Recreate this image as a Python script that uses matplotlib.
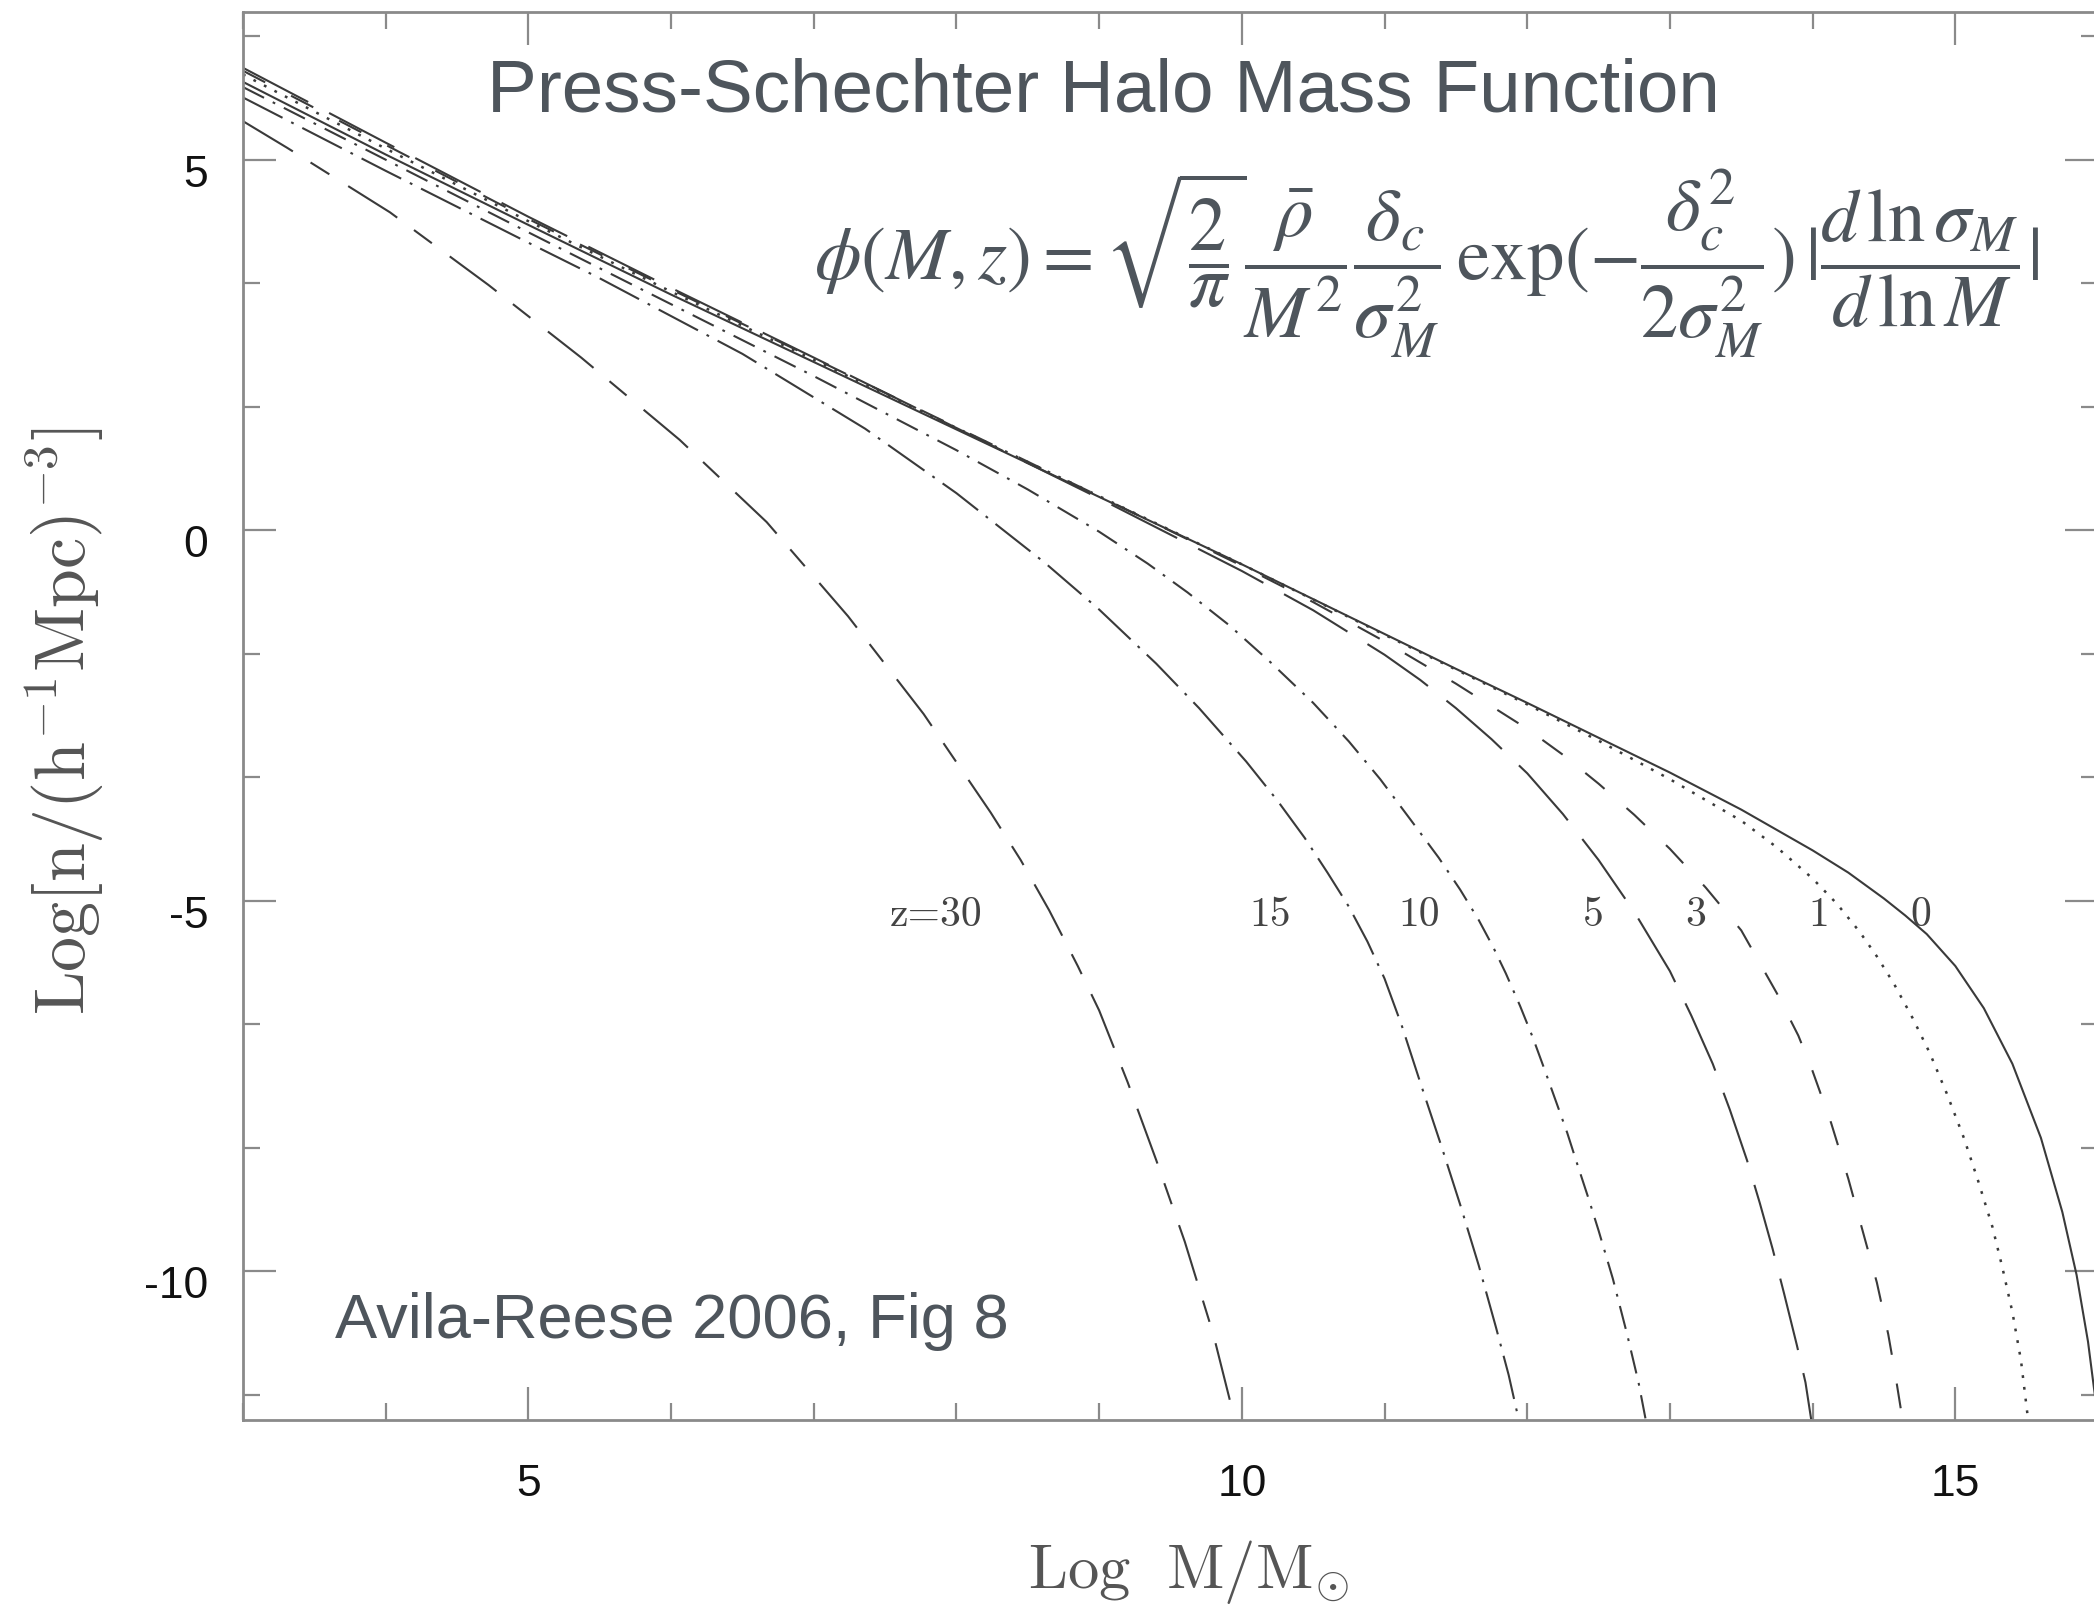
import matplotlib
matplotlib.use("Agg")
import matplotlib.pyplot as plt
import matplotlib.transforms as mtransforms
from matplotlib.ticker import MultipleLocator

# ---------------- data ----------------
# Log M/Msun  vs  Log[n/(h^-1 Mpc)^-3]
z0_x = [3.0, 4.0, 5.0, 6.0, 7.0, 8.0, 9.0, 10.0, 10.5, 11.0, 11.5, 12.0, 12.5, 13.0,
        13.5, 14.0, 14.25, 14.5, 14.65, 14.8, 15.0, 15.2, 15.4, 15.6, 15.75, 15.85, 15.93, 16.0]
z0_y = [6.05, 5.07, 4.12, 3.18, 2.27, 1.36, 0.45, -0.46, -0.93, -1.40, -1.87, -2.33, -2.80, -3.27,
        -3.77, -4.32, -4.62, -4.97, -5.20, -5.45, -5.88, -6.45, -7.20, -8.20, -9.20, -10.05, -10.95, -12.0]

z1_x = [3.0, 4.0, 5.0, 6.0, 7.0, 8.0, 9.0, 10.0, 11.0, 12.0, 12.5, 13.0, 13.5, 13.75, 14.0,
        14.17, 14.33, 14.45, 14.57, 14.7, 14.82, 14.94, 15.06, 15.16, 15.26, 15.33, 15.4, 15.46, 15.51]
z1_y = [6.15, 5.15, 4.17, 3.22, 2.30, 1.38, 0.46, -0.46, -1.41, -2.35, -2.84, -3.36, -3.92, -4.28, -4.70,
        -5.04, -5.42, -5.75, -6.12, -6.58, -7.05, -7.60, -8.20, -8.78, -9.40, -9.95, -10.55, -11.2, -12.0]

z3_x = [3.0, 4.0, 5.0, 6.0, 7.0, 8.0, 9.0, 10.0, 10.5, 11.0, 11.5, 12.0, 12.25, 12.5, 12.75, 13.0,
        13.25, 13.5, 13.75, 13.9, 14.0, 14.13, 14.25, 14.35, 14.45, 14.53, 14.58, 14.63]
z3_y = [6.20, 5.20, 4.20, 3.25, 2.32, 1.39, 0.46, -0.48, -0.97, -1.50, -2.07, -2.68, -3.03, -3.42, -3.84, -4.30,
        -4.82, -5.40, -6.25, -6.82, -7.30, -8.00, -8.75, -9.45, -10.15, -10.85, -11.40, -12.0]

z5_x = [3.0, 4.0, 5.0, 6.0, 7.0, 8.0, 9.0, 10.0, 10.5, 11.0, 11.25, 11.5, 11.75, 12.0, 12.25, 12.5,
        12.75, 13.0, 13.15, 13.3, 13.42, 13.54, 13.63, 13.72, 13.8, 13.89, 13.95, 13.99]
z5_y = [6.24, 5.23, 4.23, 3.27, 2.33, 1.38, 0.43, -0.55, -1.08, -1.68, -2.02, -2.40, -2.82, -3.28, -3.83, -4.45,
        -5.15, -5.95, -6.55, -7.20, -7.82, -8.50, -9.08, -9.70, -10.30, -11.00, -11.50, -12.0]

z10_x = [3.0, 4.0, 5.0, 6.0, 7.0, 8.0, 8.5, 9.0, 9.34, 9.62, 9.91, 10.2, 10.5, 10.75, 10.97, 11.18,
         11.38, 11.53, 11.66, 11.76, 11.85, 11.95, 12.04, 12.12, 12.2, 12.28, 12.35, 12.43, 12.5,
         12.6, 12.7, 12.78, 12.83]
z10_y = [5.98, 5.00, 4.02, 3.05, 2.08, 1.08, 0.55, -0.02, -0.45, -0.84, -1.28, -1.78, -2.33, -2.85, -3.36, -3.90,
         -4.42, -4.85, -5.26, -5.62, -5.98, -6.42, -6.85, -7.27, -7.70, -8.13, -8.55, -9.02, -9.45,
         -10.10, -10.85, -11.50, -12.0]

z15_x = [3.0, 4.0, 5.0, 5.48, 6.5, 7.36, 8.0, 8.62, 9.0, 9.4, 9.7, 10.03, 10.25, 10.44, 10.6, 10.75,
         10.88, 11.0, 11.12, 11.25, 11.4, 11.53, 11.66, 11.78, 11.87, 11.94]
z15_y = [5.84, 4.85, 3.88, 3.42, 2.38, 1.37, 0.50, -0.44, -1.07, -1.80, -2.40, -3.12, -3.65, -4.15, -4.62, -5.08,
         -5.55, -6.05, -6.68, -7.45, -8.32, -9.10, -9.92, -10.75, -11.40, -12.0]

z30_x = [3.0, 3.31, 4.03, 4.72, 5.37, 6.06, 6.67, 7.24, 7.77, 8.24, 8.45, 8.65, 8.85, 9.0, 9.2,
         9.4, 9.6, 9.8, 9.95]
z30_y = [5.52, 5.16, 4.29, 3.31, 2.33, 1.22, 0.11, -1.16, -2.48, -3.81, -4.45, -5.13, -5.88, -6.48, -7.45,
         -8.50, -9.60, -10.85, -12.0]

curve_labels = ["0", "1", "3", "5", "10", "15", "z=30"]
curve_label_x = [14.76, 14.04, 13.18, 12.46, 11.24, 10.20, 7.86]
curve_label_y = -5.19

x_limits = (3, 16)
y_limits = (-12, 7)

# ---------------- styling ----------------
plt.rcParams["axes.unicode_minus"] = False
plt.rcParams["lines.scale_dashes"] = False
plt.rcParams["font.family"] = ["Liberation Sans", "DejaVu Sans"]

W, H, DPI = 2094, 1604, 100
TEXT_GRAY = "#4e555c"
AX_GRAY = "#8a8a8a"
LINE_COL = "#3a3a3a"

fig = plt.figure(figsize=(W / DPI, H / DPI), dpi=DPI)
fig.patch.set_facecolor("white")

# axes: left spine at 243 px, right spine at 2098 px (just off canvas), top 11.5 px, bottom 1419.5 px
ax = fig.add_axes([243 / W, 1 - 1419.5 / H, (2098 - 243) / W, (1419.5 - 11.5) / H])
ax.set_facecolor("white")

series = [
    (z0_x, z0_y, "-", 1.5),
    (z1_x, z1_y, (0, (2.0, 6.5)), 1.8),
    (z3_x, z3_y, (0, (18, 21)), 1.5),
    (z5_x, z5_y, (0, (53, 17)), 1.5),
    (z10_x, z10_y, (0, (17, 7, 2, 7)), 1.5),
    (z15_x, z15_y, (0, (32, 7, 2, 7)), 1.5),
    (z30_x, z30_y, (0, (42, 15, 16, 16)), 1.5),
]
for xs, ys, ls, lw in series:
    ax.plot(xs, ys, color=LINE_COL, lw=lw, linestyle=ls, solid_capstyle="butt",
            dash_capstyle="butt", solid_joinstyle="round")

for s, xv in zip(curve_labels, curve_label_x):
    ax.text(xv, curve_label_y, s, ha="center", va="center", fontsize=30,
            family="cmr10", color="#444444")

ax.set_xlim(*x_limits)
ax.set_ylim(*y_limits)
ax.xaxis.set_major_locator(MultipleLocator(5))
ax.xaxis.set_minor_locator(MultipleLocator(1))
ax.yaxis.set_major_locator(MultipleLocator(5))
ax.yaxis.set_minor_locator(MultipleLocator(5 / 3))

ax.tick_params(which="both", direction="in", top=True, right=True, color=AX_GRAY, width=1.6)
ax.tick_params(which="major", length=24, labelsize=32, labelcolor="#111111")
ax.tick_params(which="minor", length=12)
ax.tick_params(axis="y", which="major", pad=25)
ax.tick_params(axis="x", which="major", pad=32)
for sp in ax.spines.values():
    sp.set_color(AX_GRAY)
    sp.set_linewidth(2.0)

# y tick labels sit slightly below their ticks in the reference
off = mtransforms.ScaledTranslation(0, -8 / 72, fig.dpi_scale_trans)
for tk in ax.yaxis.get_major_ticks():
    tk.label1.set_transform(tk.label1.get_transform() + off)

# ---------------- text ----------------
def px(x, y):
    return x / W, 1 - y / H

def fit(t, target, dim="w"):
    for _ in range(2):
        fig.canvas.draw()
        bb = t.get_window_extent(fig.canvas.get_renderer())
        cur = bb.width if dim == "w" else bb.height
        t.set_fontsize(t.get_fontsize() * target / cur)

title = fig.text(*px(487, 111), "Press-Schechter Halo Mass Function", fontsize=54,
                 color=TEXT_GRAY, ha="left", va="baseline")
fit(title, 1235)

ref = fig.text(*px(335, 1338), "Avila-Reese 2006, Fig 8", fontsize=45,
               color=TEXT_GRAY, ha="left", va="baseline")
fit(ref, 673)

eq = (r"$\phi(M,z) = \sqrt{\dfrac{2}{\pi}}\dfrac{\bar{\rho}}{M^2}\dfrac{\delta_c}{\sigma_M^2}"
      r"\,\exp(-\dfrac{\delta_c^2}{2\sigma_M^2})\,|\dfrac{d\,\ln\sigma_M}{d\,\ln M}|$")
eqt = fig.text(*px(814, 263), eq, fontsize=44, color=TEXT_GRAY, ha="left", va="center",
               math_fontfamily="stix")
fit(eqt, 1225)

ylab = fig.text(*px(64, 721), r"$\mathrm{Log[n/(h^{-1}Mpc)^{-3}]}$", fontsize=44,
                rotation=90, ha="center", va="center", math_fontfamily="cm", color="#555555")
fit(ylab, 588, "h")

xlab = fig.text(*px(1188, 1588), r"$\mathrm{Log\ \ M/M_{\odot}}$", fontsize=44,
                ha="center", va="baseline", math_fontfamily="cm", color="#555555")
fit(xlab, 321)

fig.savefig("out.png", dpi=DPI, facecolor="white")
